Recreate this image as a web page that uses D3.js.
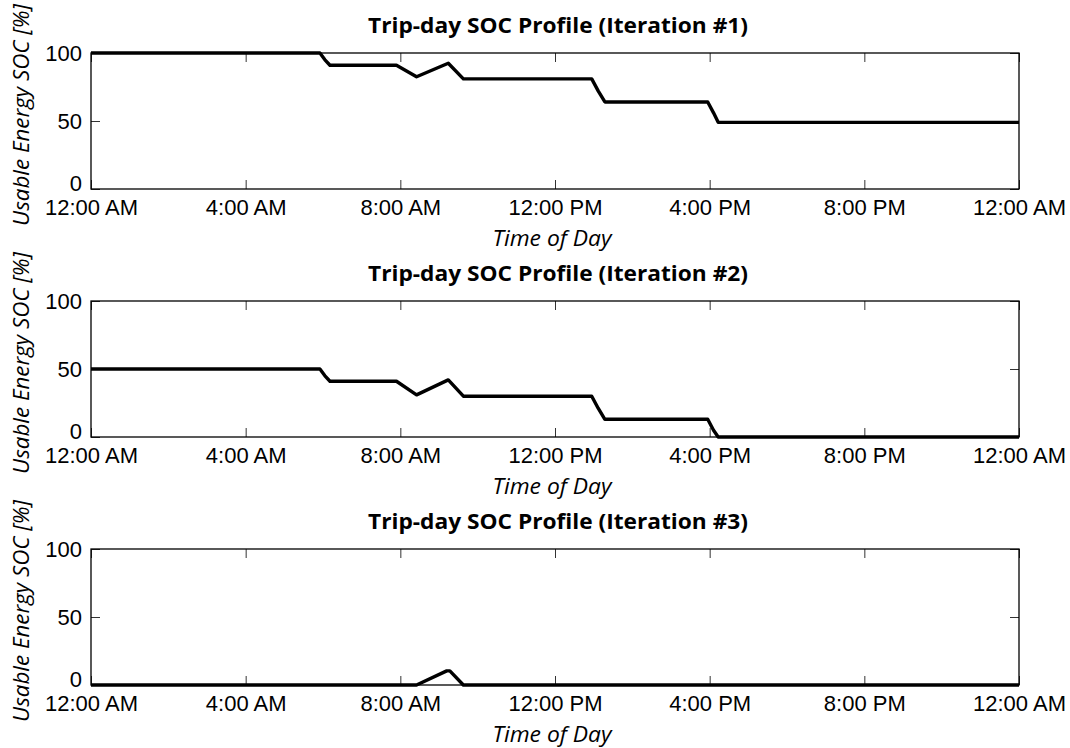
<!DOCTYPE html>
<html>
<head>
<meta charset="utf-8">
<script src="https://cdn.jsdelivr.net/npm/d3@7"></script>
<style>
  body { margin: 0; background: #fff; }
</style>
</head>
<body>
<script>
// time of day in hours, SOC in percent
var hours1 = [0, 5.92, 6.05, 6.18, 7.9, 8.42, 9.24, 9.63, 12.95, 13.12, 13.29, 15.95, 16.1, 16.22, 24];
var soc1   = [100, 100, 95, 91, 91, 82.5, 92.5, 81, 81, 72, 64, 64, 56, 49, 49];

var hours2 = [0, 5.92, 6.05, 6.18, 7.9, 8.42, 9.24, 9.63, 12.95, 13.12, 13.29, 15.95, 16.1, 16.22, 24];
var soc2   = [50, 50, 45, 41, 41, 31, 42, 30, 30, 21, 13, 13, 5, 0, 0];

var hours3 = [0, 8.42, 9.2, 9.28, 9.63, 24];
var soc3   = [0, 0, 10.4, 10.4, 0, 0];

var titles = ["Trip-day SOC Profile (Iteration #1)", "Trip-day SOC Profile (Iteration #2)", "Trip-day SOC Profile (Iteration #3)"];
var xTicks = [0, 4, 8, 12, 16, 20, 24];
var xTickLabels = ["12:00 AM", "4:00 AM", "8:00 AM", "12:00 PM", "4:00 PM", "8:00 PM", "12:00 AM"];
var yTicks = [0, 50, 100];

var series = [[hours1, soc1], [hours2, soc2], [hours3, soc3]];

var W = 1070, H = 748;
var left = 91, right = 1019;
var tops = [53, 301, 549];
var ph = 136;

var svg = d3.select("body")
  .append("svg")
  .attr("width", W)
  .attr("height", H);

var x = d3.scaleLinear().domain([0, 24]).range([left, right]);

series.forEach(function(s, i) {
  var top = tops[i];
  var y = d3.scaleLinear().domain([0, 100]).range([top + ph, top]);
  var g = svg.append("g");

  // ticks, inside the box
  var xb = g.append("g")
    .attr("transform", "translate(0," + (top + ph) + ")")
    .call(d3.axisBottom(x).tickValues(xTicks).tickSize(-9).tickPadding(10)
      .tickFormat(function(d, k) { return xTickLabels[k]; }));
  var xt = g.append("g")
    .attr("transform", "translate(0," + top + ")")
    .call(d3.axisTop(x).tickValues(xTicks).tickSize(-9).tickFormat(""));
  var yl = g.append("g")
    .attr("transform", "translate(" + left + ",0)")
    .call(d3.axisLeft(y).tickValues(yTicks).tickSize(-9).tickPadding(9));
  var yr = g.append("g")
    .attr("transform", "translate(" + right + ",0)")
    .call(d3.axisRight(y).tickValues(yTicks).tickSize(-9).tickFormat(""));

  [xb, xt, yl, yr].forEach(function(a) {
    a.select(".domain").remove();
    a.selectAll(".tick line").attr("stroke", "#333").attr("stroke-width", 1);
    a.selectAll("text")
      .attr("font-family", "'Liberation Sans', Arial, sans-serif")
      .attr("font-size", 22)
      .attr("fill", "#000");
  });
  yl.selectAll(".tick").filter(function(d) { return d === 0; })
    .select("text").attr("dy", "0.05em");

  g.append("rect")
    .attr("x", left)
    .attr("y", top)
    .attr("width", right - left)
    .attr("height", ph)
    .attr("fill", "none")
    .attr("stroke", "#000")
    .attr("stroke-width", 1.3);

  var pts = s[0].map(function(h, k) { return [h, s[1][k]]; });
  var line = d3.line()
    .x(function(d) { return x(d[0]); })
    .y(function(d) { return y(d[1]); });
  g.append("path")
    .datum(pts)
    .attr("d", line)
    .attr("fill", "none")
    .attr("stroke", "#000")
    .attr("stroke-width", 3.4)
    .attr("stroke-linejoin", "round");

  g.append("text")
    .attr("x", 558)
    .attr("y", top - 20)
    .attr("text-anchor", "middle")
    .attr("font-family", "'Open Sans', sans-serif")
    .attr("font-weight", "bold")
    .attr("font-size", 22)
    .attr("textLength", 380)
    .attr("lengthAdjust", "spacingAndGlyphs")
    .text(titles[i]);

  g.append("text")
    .attr("x", 552)
    .attr("y", top + ph + 57)
    .attr("text-anchor", "middle")
    .attr("font-family", "'Open Sans', sans-serif")
    .attr("font-style", "italic")
    .attr("font-size", 21)
    .attr("textLength", 119)
    .attr("lengthAdjust", "spacingAndGlyphs")
    .text("Time of Day");

  var cy = top + ph / 2 - 6;
  g.append("text")
    .attr("transform", "translate(29," + cy + ") rotate(-90)")
    .attr("text-anchor", "middle")
    .attr("font-family", "'Open Sans', sans-serif")
    .attr("font-style", "italic")
    .attr("font-size", 21)
    .attr("textLength", 222)
    .attr("lengthAdjust", "spacingAndGlyphs")
    .text("Usable Energy SOC [%]");
});
</script>
</body>
</html>
